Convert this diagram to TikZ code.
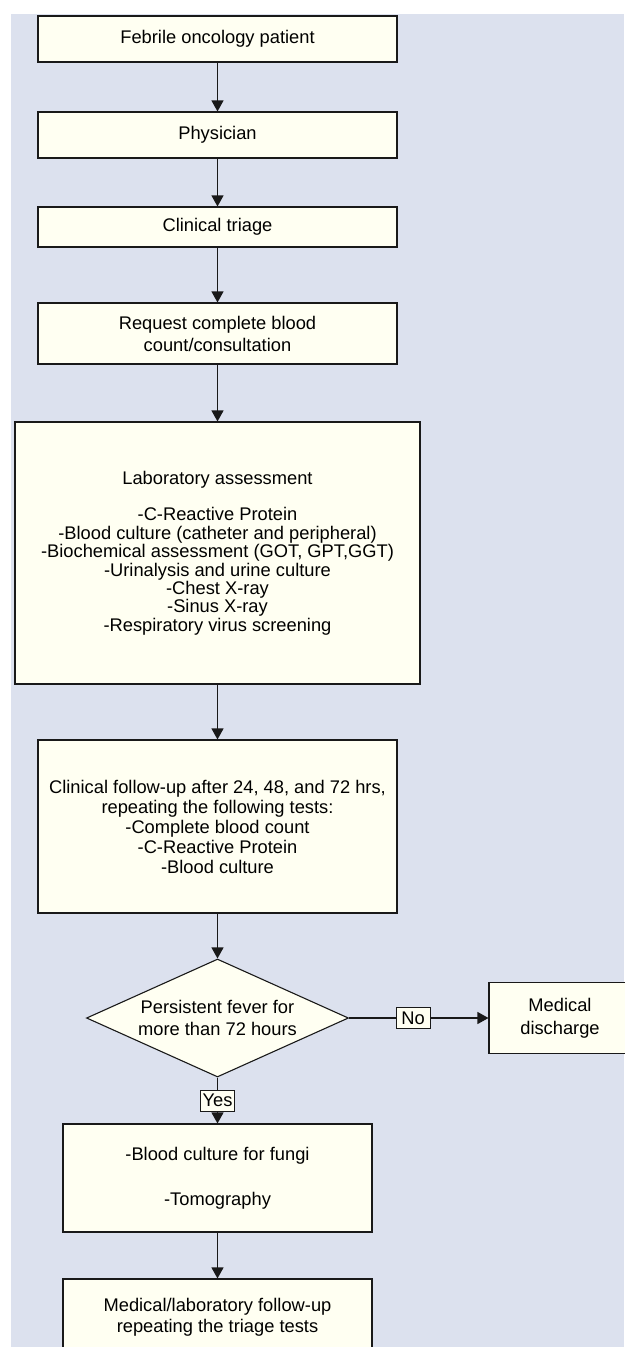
\documentclass[tikz,border=0pt]{standalone}
\usepackage{fontspec}
\setmainfont{Liberation Sans}
\usetikzlibrary{shapes.geometric,arrows.meta}
\definecolor{bgc}{RGB}{220,225,238}
\definecolor{boxc}{RGB}{255,255,242}
\definecolor{linec}{RGB}{25,25,25}
\begin{document}
\begin{tikzpicture}[x=1pt,y=-1pt,
  stepbox/.style={draw=linec, fill=boxc, line width=1.1pt, rectangle, align=center, inner sep=0pt},
  arr/.style={draw=linec, line width=1.1pt, -{Triangle[length=11pt,width=12pt]}},
  lbl/.style={draw=linec, fill=boxc, line width=0.9pt, inner sep=0pt, minimum width=34pt, minimum height=21pt, font=\fontsize{18.3}{18.4}\selectfont}]
\useasboundingbox (0,0) rectangle (624,1347);
\fill[white] (0,0) rectangle (624,1347);
\fill[bgc] (11,14) rectangle (624,1347);

\node[stepbox, minimum width=359pt, minimum height=46pt, font=\fontsize{18.3}{18.4}\selectfont] (b1) at (217.5,39) {Febrile oncology patient};
\node[stepbox, minimum width=359pt, minimum height=46pt, font=\fontsize{18.3}{18.4}\selectfont] (b2) at (217.5,135) {Physician};
\node[stepbox, minimum width=359pt, minimum height=40pt, font=\fontsize{18.3}{18.4}\selectfont] (b3) at (217.5,227) {Clinical triage};
\node[stepbox, minimum width=359pt, minimum height=61pt, font=\fontsize{18.3}{22}\selectfont] (b4) at (217.5,333.5) {Request complete blood\\count/consultation};
\node[stepbox, minimum width=405pt, minimum height=262pt, font=\fontsize{18.3}{18.4}\selectfont] (b5) at (217.5,553) {Laboratory assessment\\[18.4pt]-C-Reactive Protein\\-Blood culture (catheter and peripheral)\\-Biochemical assessment (GOT, GPT,GGT)\\-Urinalysis and urine culture\\-Chest X-ray\\-Sinus X-ray\\-Respiratory virus screening};
\node[stepbox, minimum width=359pt, minimum height=173pt, font=\fontsize{18.3}{20}\selectfont] (b6) at (217.5,826.5) {Clinical follow-up after 24, 48, and 72 hrs,\\repeating the following tests:\\-Complete blood count\\-C-Reactive Protein\\-Blood culture};
\node[draw=linec, fill=boxc, line width=1.1pt, diamond, aspect=2.22, minimum width=262pt, minimum height=118pt, inner sep=0pt, align=center, font=\fontsize{18.3}{22}\selectfont] (dia) at (217.5,1018) {Persistent fever for\\more than 72 hours};
\node[stepbox, minimum width=142pt, minimum height=71pt, font=\fontsize{18.3}{23}\selectfont] (dis) at (560,1018) {Medical\\discharge};
\node[stepbox, minimum width=309pt, minimum height=108pt, font=\fontsize{18.3}{22.5}\selectfont] (b7) at (217.5,1178) {-Blood culture for fungi\\[22.5pt]-Tomography};
\node[stepbox, minimum width=309pt, minimum height=77pt, font=\fontsize{18.3}{21}\selectfont] (b8) at (217.5,1317.5) {Medical/laboratory follow-up\\repeating the triage tests};

\draw[arr] (b1) -- (b2);
\draw[arr] (b2) -- (b3);
\draw[arr] (b3) -- (b4);
\draw[arr] (b4) -- (b5);
\draw[arr] (b5) -- (b6);
\draw[arr] (b6) -- (dia);
\draw[arr] (dia) -- node[lbl, pos=0.46] {No} (dis);
\draw[arr] (dia) -- node[lbl] {Yes} (b7);
\draw[arr] (b7) -- (b8);
\end{tikzpicture}
\end{document}
